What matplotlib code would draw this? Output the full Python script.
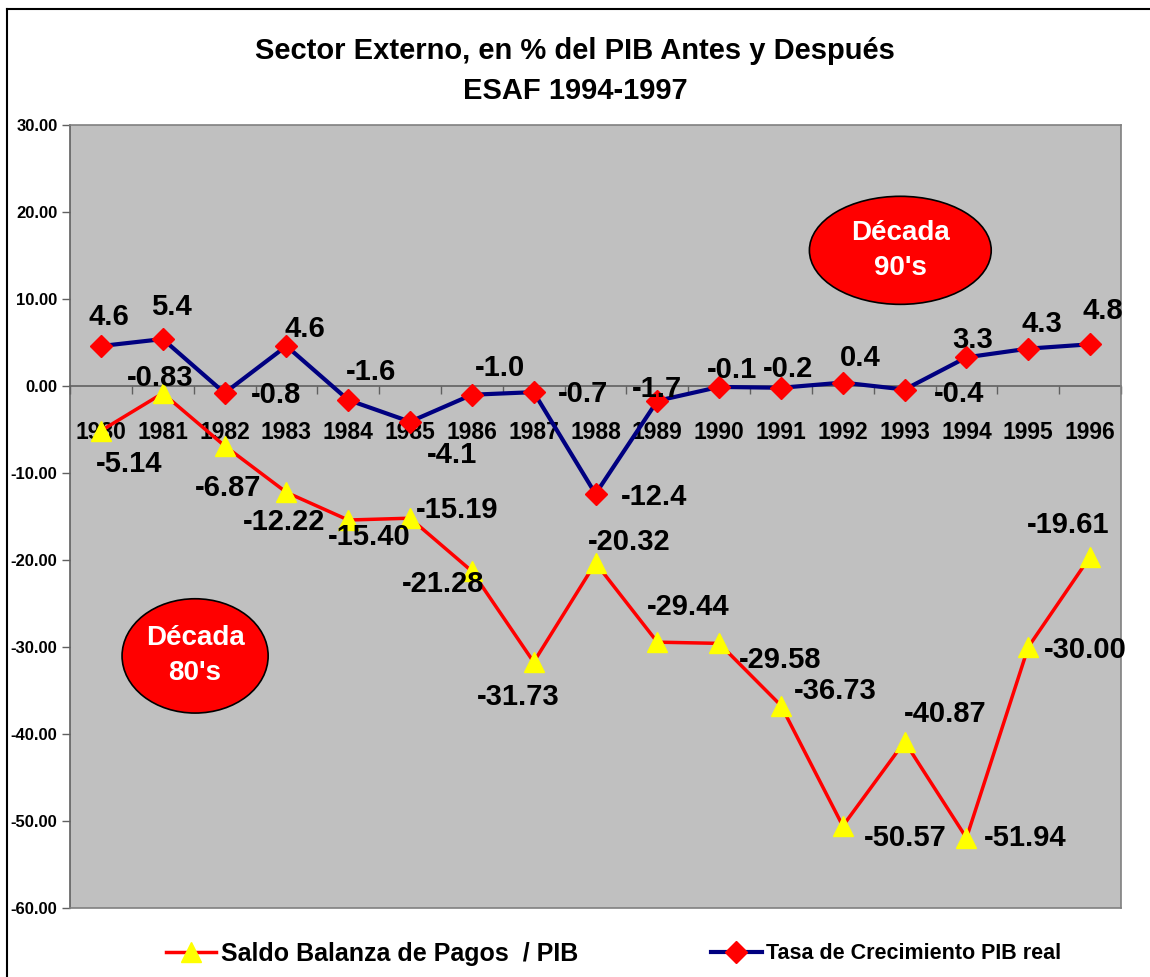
import matplotlib
matplotlib.use('Agg')
import matplotlib.pyplot as plt
from matplotlib.patches import Ellipse
from matplotlib.lines import Line2D
import numpy as np

years = ['1980', '1981', '1982', '1983', '1984', '1985', '1986', '1987', '1988',
         '1989', '1990', '1991', '1992', '1993', '1994', '1995', '1996']
saldo = [-5.14, -0.83, -6.87, -12.22, -15.40, -15.19, -21.28, -31.73, -20.32,
         -29.44, -29.58, -36.73, -50.57, -40.87, -51.94, -30.00, -19.61]
pib = [4.6, 5.4, -0.8, 4.6, -1.6, -4.1, -1.0, -0.7, -12.4,
       -1.7, -0.1, -0.2, 0.4, -0.4, 3.3, 4.3, 4.8]

# label offsets in pixels (dx, dy)
saldo_off = [(28, -33), (-3, 15), (3, -42), (-2, -30), (21, -17), (47, 8),
             (-29, -13), (-16, -35), (34, 21), (31, 35), (61, -17), (54, 15),
             (62, -12), (41, 28), (59, 0), (57, -3), (-22, 32)]
pib_off = [(8, 29), (9, 32), (51, -2), (18, 17), (23, 28), (42, -33),
           (28, 27), (49, -2), (59, -3), (0, 12), (13, 17), (7, 19),
           (17, 25), (54, -4), (6, 17), (14, 25), (13, 33)]

plt.rcParams['font.family'] = ['Liberation Sans', 'DejaVu Sans']
plt.rcParams['font.weight'] = 'bold'

fig = plt.figure(figsize=(11.5, 9.77), dpi=100)
ax = fig.add_axes([0.0609, 0.0706, 0.9139, 0.8014])
ax.set_facecolor('#C0C0C0')

x = np.arange(len(years))
ax.plot(x, saldo, color='#FF0000', lw=2.5, marker='^', ms=14,
        mfc='#FFFF00', mec='#FFFF00', zorder=3)
ax.plot(x, pib, color='#000080', lw=3, marker='D', ms=11,
        mfc='#FF0000', mec='#FF0000', zorder=4)

for i in range(len(years)):
    ax.annotate(f'{saldo[i]:.2f}', (x[i], saldo[i]), xytext=saldo_off[i],
                textcoords='offset pixels', ha='center', va='center',
                fontsize=21, fontweight='bold', zorder=5)
    ax.annotate(f'{pib[i]:.1f}', (x[i], pib[i]), xytext=pib_off[i],
                textcoords='offset pixels', ha='center', va='center',
                fontsize=21, fontweight='bold', zorder=5)

ymin, ymax = -60, 30
ax.set_xlim(-0.5, len(years) - 0.5)
ax.set_ylim(ymin, ymax)
ax.set_yticks(np.arange(-60, 31, 10))
ax.set_yticklabels([f'{v:.2f}' for v in np.arange(-60, 31, 10)],
                   fontsize=12, fontweight='bold')
ax.tick_params(axis='y', length=6, width=1, color='#606060', pad=3)
ax.set_xticks([])
for s in ax.spines.values():
    s.set_color('#808080')
    s.set_linewidth(1.2)
ax.spines['left'].set_color('#606060')

# category axis crossing at zero
sec = ax.secondary_xaxis((0 - ymin) / (ymax - ymin))
sec.set_alignment('bottom')
sec.set_xticks(x)
sec.set_xticklabels(years, fontsize=16.5, fontweight='bold')
sec.set_xticks(np.arange(-0.5, len(years), 1), minor=True)
sec.tick_params(axis='x', which='major', length=0, pad=25)
sec.tick_params(axis='x', which='minor', length=6, width=1, color='#606060', direction='out')
sec.spines['bottom'].set_color('#606060')
sec.spines['bottom'].set_linewidth(1.2)

# decade ellipses
for cx, cy, w, h, txt in [(0.790, 0.840, 0.173, 0.138, "Década\n90's"),
                          (0.119, 0.322, 0.139, 0.146, "Década\n80's")]:
    ax.add_patch(Ellipse((cx, cy), w, h, transform=ax.transAxes,
                         facecolor='#FF0000', edgecolor='black', lw=1.2, zorder=6))
    ax.text(cx, cy, txt, transform=ax.transAxes, ha='center', va='center',
            color='white', fontsize=20, fontweight='bold', linespacing=1.45,
            zorder=7)

fig.text(0.5, 0.948, 'Sector Externo, en % del PIB Antes y Después', ha='center',
         va='center', fontsize=21, fontweight='bold')
fig.text(0.5, 0.907, 'ESAF 1994-1997', ha='center', va='center',
         fontsize=21, fontweight='bold')

# legend
h1 = Line2D([], [], color='#FF0000', lw=2.5, marker='^', ms=14,
            mfc='#FFFF00', mec='#FFFF00')
h2 = Line2D([], [], color='#000080', lw=3, marker='D', ms=11,
            mfc='#FF0000', mec='#FF0000')
fig.legend([h1], ['Saldo Balanza de Pagos  / PIB'], loc='center left',
           bbox_to_anchor=(0.125, 0.024), frameon=False, handlelength=2.0,
           handletextpad=0.2, prop={'size': 18, 'weight': 'bold'})
fig.legend([h2], ['Tasa de Crecimiento PIB real'], loc='center left',
           bbox_to_anchor=(0.601, 0.024), frameon=False, handlelength=2.4,
           handletextpad=0.2, prop={'size': 15.5, 'weight': 'bold'})

# chart frame
fig.add_artist(Line2D([7 / 1150, 7 / 1150], [0, 1 - 9 / 977], transform=fig.transFigure,
                      color='black', lw=1.5))
fig.add_artist(Line2D([7 / 1150, 1], [1 - 9 / 977, 1 - 9 / 977], transform=fig.transFigure,
                      color='black', lw=1.5))

fig.savefig('out.png', dpi=100)
